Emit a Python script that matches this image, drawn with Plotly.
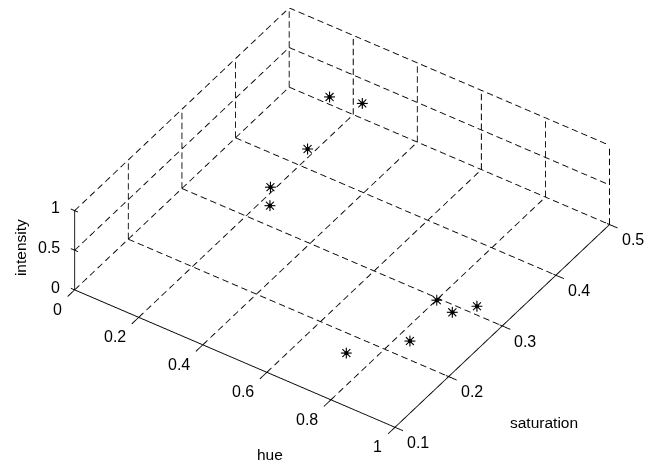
import plotly.graph_objects as go

# ---- data ----
hue = [0.208, 0.302, 0.270, 0.268, 0.300, 0.891, 0.943, 0.973, 0.926, 0.808]
saturation = [0.451, 0.456, 0.373, 0.305, 0.285, 0.243, 0.241, 0.269, 0.172, 0.124]
intensity = [0.55, 0.60, 0.50, 0.45, 0.40, 0.50, 0.45, 0.40, 0.50, 0.45]

hue_ticks = [0, 0.2, 0.4, 0.6, 0.8, 1]
hue_labels = ["0", "0.2", "0.4", "0.6", "0.8", "1"]
sat_ticks = [0.1, 0.2, 0.3, 0.4, 0.5]
sat_labels = ["0.1", "0.2", "0.3", "0.4", "0.5"]
int_ticks = [0, 0.5, 1]
int_labels = ["0", "0.5", "1"]

H0, H1 = hue_ticks[0], hue_ticks[-1]
S0, S1 = sat_ticks[0], sat_ticks[-1]
Z0, Z1 = int_ticks[0], int_ticks[-1]

# approximate on-screen pixel length of one data unit along each axis
# (used only to size dashes and the asterisk glyphs)
PX_H = (324.0, 139.0)
PX_S = (542.5, -512.5)
PX_Z = (0.0, -80.0)
DASH_ON, DASH_PERIOD = 6.5, 10.5


def screen_len(a, b):
    d = [b[i] - a[i] for i in range(3)]
    px = d[0] * PX_H[0] + d[1] * PX_S[0] + d[2] * PX_Z[0]
    py = d[0] * PX_H[1] + d[1] * PX_S[1] + d[2] * PX_Z[1]
    return (px * px + py * py) ** 0.5


def add_seg(xs, ys, zs, a, b):
    xs += [a[0], b[0], None]
    ys += [a[1], b[1], None]
    zs += [a[2], b[2], None]


def dashed_segs(pairs):
    xs, ys, zs = [], [], []
    for a, b in pairs:
        L = screen_len(a, b)
        n = max(1, int(round(L / DASH_PERIOD)))
        per = 1.0 / n
        on = per * min(0.9, DASH_ON / (L / n))
        for k in range(n):
            t0 = k * per
            t1 = t0 + on
            p0 = tuple(a[i] + (b[i] - a[i]) * t0 for i in range(3))
            p1 = tuple(a[i] + (b[i] - a[i]) * t1 for i in range(3))
            add_seg(xs, ys, zs, p0, p1)
    return xs, ys, zs


def solid_segs(pairs):
    xs, ys, zs = [], [], []
    for a, b in pairs:
        add_seg(xs, ys, zs, a, b)
    return xs, ys, zs


dashed = []
for h in hue_ticks[:-1]:
    dashed.append(((h, S0, Z0), (h, S1, Z0)))
for s in sat_ticks[1:]:
    dashed.append(((H0, s, Z0), (H1, s, Z0)))
for s in sat_ticks[1:]:
    dashed.append(((H0, s, Z0), (H0, s, Z1)))
for z in int_ticks[1:]:
    dashed.append(((H0, S0, z), (H0, S1, z)))
for h in hue_ticks[1:]:
    dashed.append(((h, S1, Z0), (h, S1, Z1)))
for z in int_ticks[1:]:
    dashed.append(((H0, S1, z), (H1, S1, z)))

solid = [((H0, S0, Z0), (H1, S0, Z0)),
         ((H1, S0, Z0), (H1, S1, Z0)),
         ((H0, S0, Z0), (H0, S0, Z1))]
for h in hue_ticks:
    solid.append(((h, S0 + 0.004, Z0), (h, S0 - 0.013, Z0)))
for s in sat_ticks:
    solid.append(((H1 - 0.008, s, Z0), (H1 + 0.025, s, Z0)))
for z in int_ticks:
    solid.append(((H0 - 0.012, S0, z), (H0 + 0.01, S0, z)))


# asterisk markers: offsets in screen pixels converted to data units
def px_to_data(px, py):
    # horizontal screen motion inside the floor plane, vertical via intensity
    return (px * 0.002123, px * 0.000576, -py / 80.0)


star_arms = [(0, 5.5), (5.5, 0), (4.0, 4.0), (4.0, -4.0)]
stx, sty, stz = [], [], []
for h, s, z in zip(hue, saturation, intensity):
    for (ox, oy) in star_arms:
        d = px_to_data(ox, oy)
        add_seg(stx, sty, stz, (h - d[0], s - d[1], z - d[2]), (h + d[0], s + d[1], z + d[2]))

fig = go.Figure()
dx, dy, dz = dashed_segs(dashed)
fig.add_trace(go.Scatter3d(x=dx, y=dy, z=dz, mode="lines",
                           line=dict(color="black", width=1.8),
                           hoverinfo="skip", showlegend=False))
sx, sy, sz = solid_segs(solid)
fig.add_trace(go.Scatter3d(x=sx, y=sy, z=sz, mode="lines",
                           line=dict(color="black", width=1.8),
                           hoverinfo="skip", showlegend=False))
fig.add_trace(go.Scatter3d(x=stx, y=sty, z=stz, mode="lines",
                           line=dict(color="black", width=2.2),
                           hoverinfo="skip", showlegend=False))
fig.add_trace(go.Scatter3d(x=hue, y=saturation, z=intensity, mode="markers",
                           marker=dict(symbol="circle", size=2.5, color="black"),
                           showlegend=False))

tick_font = dict(family="Liberation Sans, Arial, sans-serif", size=16, color="black")
lab_font = dict(family="Liberation Sans, Arial, sans-serif", size=15.5, color="black")
ann = []
for h, t in zip(hue_ticks, hue_labels):
    ann.append(dict(x=h, y=S0, z=Z0, text=t, showarrow=False, xanchor="right",
                    yanchor="middle", xshift=-11, yshift=-19, font=tick_font))
for s, t in zip(sat_ticks, sat_labels):
    ann.append(dict(x=H1, y=s, z=Z0, text=t, showarrow=False, xanchor="left",
                    yanchor="middle", xshift=10, yshift=-15, font=tick_font))
for z, t in zip(int_ticks, int_labels):
    ann.append(dict(x=H0, y=S0, z=z, text=t, showarrow=False, xanchor="right",
                    yanchor="middle", xshift=-13, yshift=3, font=tick_font))
ann.append(dict(x=0.5, y=S0, z=Z0, text="hue", showarrow=False, xanchor="center",
                yanchor="middle", xshift=35, yshift=-96, font=lab_font))
ann.append(dict(x=H1, y=0.3, z=Z0, text="saturation", showarrow=False, xanchor="center",
                yanchor="middle", xshift=42, yshift=-96, font=lab_font))
ann.append(dict(x=H0, y=S0, z=0.5, text="intensity", showarrow=False, xanchor="center",
                yanchor="middle", xshift=-54, yshift=3, textangle=-90, font=lab_font))

k = 1.78
view = (0.4308, -0.6394, 0.6366)
shift = (0.0443, 0.0036, -0.0263)
ax_off = dict(visible=False)
fig.update_layout(
    width=663, height=468,
    margin=dict(l=0, r=0, t=0, b=0),
    paper_bgcolor="white",
    scene=dict(
        domain=dict(x=[0.0332, 1.0], y=[0.072, 1.0]),
        xaxis=dict(range=[-0.05, 1.05], **ax_off),
        yaxis=dict(range=[0.08, 0.52], **ax_off),
        zaxis=dict(range=[-0.05, 1.05], **ax_off),
        aspectmode="manual",
        aspectratio=dict(x=1.1 * k, y=1.0934 * k, z=0.2926 * k),
        camera=dict(projection=dict(type="orthographic"),
                    eye=dict(x=view[0] + shift[0], y=view[1] + shift[1], z=view[2] + shift[2]),
                    up=dict(x=0, y=0, z=1),
                    center=dict(x=shift[0], y=shift[1], z=shift[2])),
        annotations=ann,
        bgcolor="white",
    ),
)
fig.write_html("out.html")
